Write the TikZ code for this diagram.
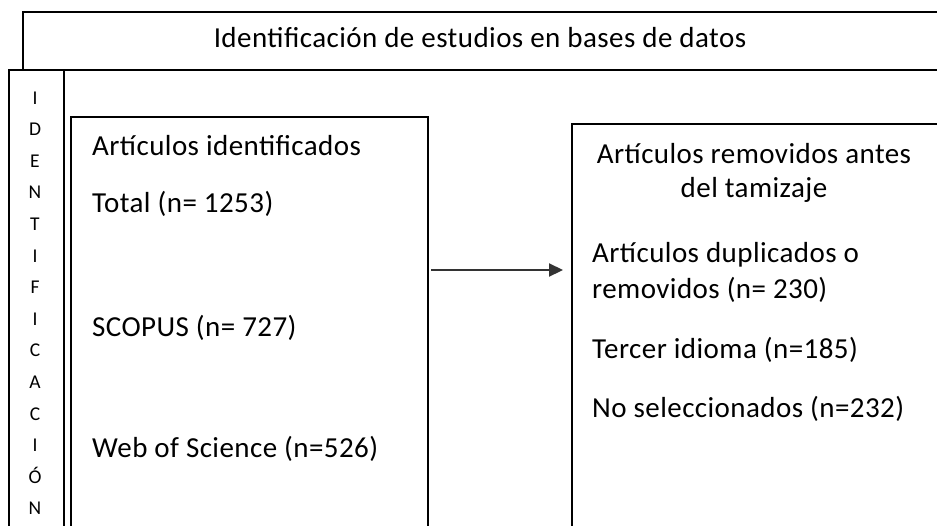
\documentclass[tikz,border=0pt]{standalone}
\usepackage{fontspec}
\setmainfont{Carlito}[LetterSpace=1.5]
\usetikzlibrary{arrows.meta}
\begin{document}
\begin{tikzpicture}[x=1pt,y=-1pt,
  frame/.style={draw=black,line width=2.4pt,rectangle,inner sep=0pt,anchor=north west},
  txt/.style={font=\fontsize{29}{34}\selectfont,inner sep=0pt,anchor=base west},
  ctxt/.style={font=\fontsize{29}{34}\selectfont,inner sep=0pt,anchor=base},
  letter/.style={font=\fontsize{19.5}{22}\selectfont,inner sep=0pt,anchor=base}]
\useasboundingbox (0,0) rectangle (937,525);
\clip (0,0) rectangle (937,525);
\fill[white] (0,0) rectangle (937,525);
% frames
\node[frame,minimum width=940pt,minimum height=58pt] (top) at (22,11) {};
\node[frame,minimum width=55pt,minimum height=470pt] (side) at (8,69) {};
\node[frame,minimum width=357pt,minimum height=420pt] (left) at (70,116) {};
\node[frame,minimum width=390pt,minimum height=420pt] (right) at (571,123) {};
% title
\node[ctxt] (title) at (480,47) {Identificación de estudios en bases de datos};
% vertical letters
\foreach \l [count=\i from 0] in {I,D,E,N,T,I,F,I,C,A,C,I,Ó,N}
  \node[letter] (v\i) at (35,104+31.6*\i) {\l};
% left box texts
\node[txt] (l1) at (92,155) {Artículos identificados};
\node[txt] (l2) at (92,212) {Total (n= 1253)};
\node[txt] (l3) at (92,336) {SCOPUS (n= 727)};
\node[txt] (l4) at (92,457) {Web of Science (n=526)};
% right box texts
\node[ctxt] (r1a) at (754,163) {Artículos removidos antes};
\node[ctxt] (r1b) at (754,197) {del tamizaje};
\node[txt] (r2) at (592,262) {Artículos duplicados o};
\node[txt] (r3) at (592,298) {removidos (n= 230)};
\node[txt] (r4) at (592,358) {Tercer idioma (n=185)};
\node[txt] (r5) at (592,417) {No seleccionados (n=232)};
% arrow
\coordinate (a0) at (431,270);
\coordinate (a1) at (563,270);
\draw[line width=2.2pt,draw=black!80,-{Triangle[length=14pt,width=13pt]}] (a0) -- (a1);
\end{tikzpicture}
\end{document}
